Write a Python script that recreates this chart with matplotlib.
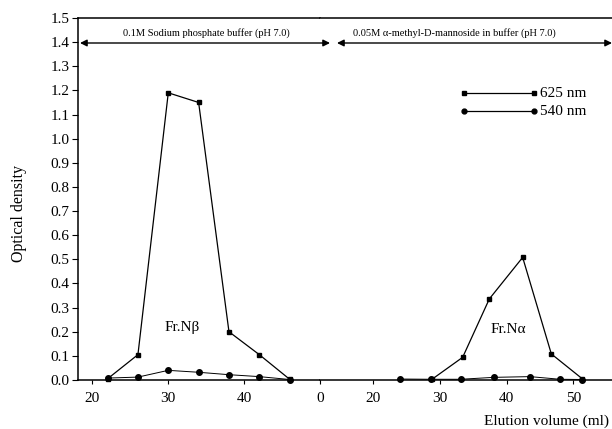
import matplotlib
matplotlib.use("Agg")
import matplotlib.pyplot as plt

# ---- data ----
# Segment 1: 0.1M sodium phosphate buffer (Fr.N beta)
vol1 = [22, 26, 30, 34, 38, 42, 46]
od625_1 = [0.005, 0.105, 1.19, 1.15, 0.20, 0.105, 0.003]
od540_1 = [0.008, 0.012, 0.040, 0.032, 0.022, 0.014, 0.002]
# Segment 2: 0.05M alpha-methyl-D-mannoside in buffer (Fr.N alpha)
vol2_625 = [28.8, 33.4, 37.4, 42.4, 46.7, 51.3]
od625_2 = [0.003, 0.094, 0.336, 0.508, 0.108, 0.006]
vol2_540 = [24.0, 28.7, 33.1, 38.1, 43.5, 48.0, 51.3]
od540_2 = [0.004, 0.003, 0.003, 0.011, 0.014, 0.003, 0.002]

yticks = [0.0, 0.1, 0.2, 0.3, 0.4, 0.5, 0.6, 0.7, 0.8, 0.9, 1.0, 1.1, 1.2, 1.3, 1.4, 1.5]
xticks1 = [20, 30, 40, 50]
xticklabels1 = ["20", "30", "40", "0"]
xticks2 = [20, 30, 40, 50]
xticklabels2 = ["20", "30", "40", "50"]

plt.rcParams['font.family'] = ['Liberation Serif', 'DejaVu Serif']

W, H = 612, 429
fig = plt.figure(figsize=(W / 100, H / 100), dpi=100)

def fx(px):
    return px / W

def fy(py):
    return (H - py) / H

y0, y1 = 380, 18
ax1 = fig.add_axes([fx(78), fy(y0), fx(320) - fx(78), fy(y1) - fy(y0)])
ax2 = fig.add_axes([fx(320), fy(y0), 1.0 - fx(320), fy(y1) - fy(y0)], sharey=ax1)

lw = 0.9
for ax, v625, o625, v540, o540 in [(ax1, vol1, od625_1, vol1, od540_1),
                                   (ax2, vol2_625, od625_2, vol2_540, od540_2)]:
    ax.plot(v625, o625, color='black', lw=lw, marker='s', ms=3.5, clip_on=False)
    ax.plot(v540, o540, color='black', lw=0.7, marker='o', ms=4, clip_on=False)

ax1.set_xlim(18.1, 50.0)
ax2.set_xlim(12.0, 55.8)
ax1.set_ylim(0.0, 1.5)
ax1.set_yticks(yticks)
ax1.set_yticklabels([f"{v:.1f}" for v in yticks])
ax1.set_xticks(xticks1)
ax1.set_xticklabels(xticklabels1)
ax2.set_xticks(xticks2)
ax2.set_xticklabels(xticklabels2)

for ax in (ax1, ax2):
    ax.spines['right'].set_visible(False)
    for s in ax.spines.values():
        s.set_linewidth(1.1)
    ax.tick_params(axis='x', direction='out', length=3, width=0.8, pad=6, labelsize=11)
    ax.tick_params(axis='y', direction='out', length=4, width=0.8, pad=2, labelsize=11)
ax2.spines['left'].set_visible(False)
ax2.tick_params(axis='y', left=False, labelleft=False)

ax1.set_ylabel("Optical density", fontsize=11.5)
ax1.yaxis.set_label_coords(-0.21, 0.46)

ax1.text(31.8, 0.216, "Fr.N\u03b2", fontsize=11, ha='center', va='center')
ax2.text(40.3, 0.21, "Fr.N\u03b1", fontsize=11, ha='center', va='center')

# legend drawn manually
for yy, mk, lab in [(0.792, 's', '625 nm'), (0.743, 'o', '540 nm')]:
    ax2.plot([0.493, 0.733], [yy, yy], color='black', lw=lw, marker=mk,
             ms=3.5, transform=ax2.transAxes, clip_on=False)
    ax2.text(0.755, yy, lab, transform=ax2.transAxes, fontsize=11,
             ha='left', va='center')

# buffer brackets
arrow_kw = dict(arrowstyle='<|-|>', color='black', lw=1.0, mutation_scale=10,
                shrinkA=0, shrinkB=0)
fig.add_artist(matplotlib.patches.FancyArrowPatch((fx(80), fy(43)), (fx(330), fy(43)),
                                                  transform=fig.transFigure, **arrow_kw))
fig.add_artist(matplotlib.patches.FancyArrowPatch((fx(337), fy(43)), (fx(612), fy(43)),
                                                  transform=fig.transFigure, **arrow_kw))
fig.text(fx(206), fy(33), "0.1M Sodium phosphate buffer (pH 7.0)", fontsize=7.5,
         ha='center', va='center')
fig.text(fx(353), fy(33), "0.05M \u03b1-methyl-D-mannoside in buffer (pH 7.0)", fontsize=7.5,
         ha='left', va='center')

fig.text(fx(484), fy(421), "Elution volume (ml)", fontsize=11, ha='left', va='center')

fig.savefig("out.png", dpi=100)
